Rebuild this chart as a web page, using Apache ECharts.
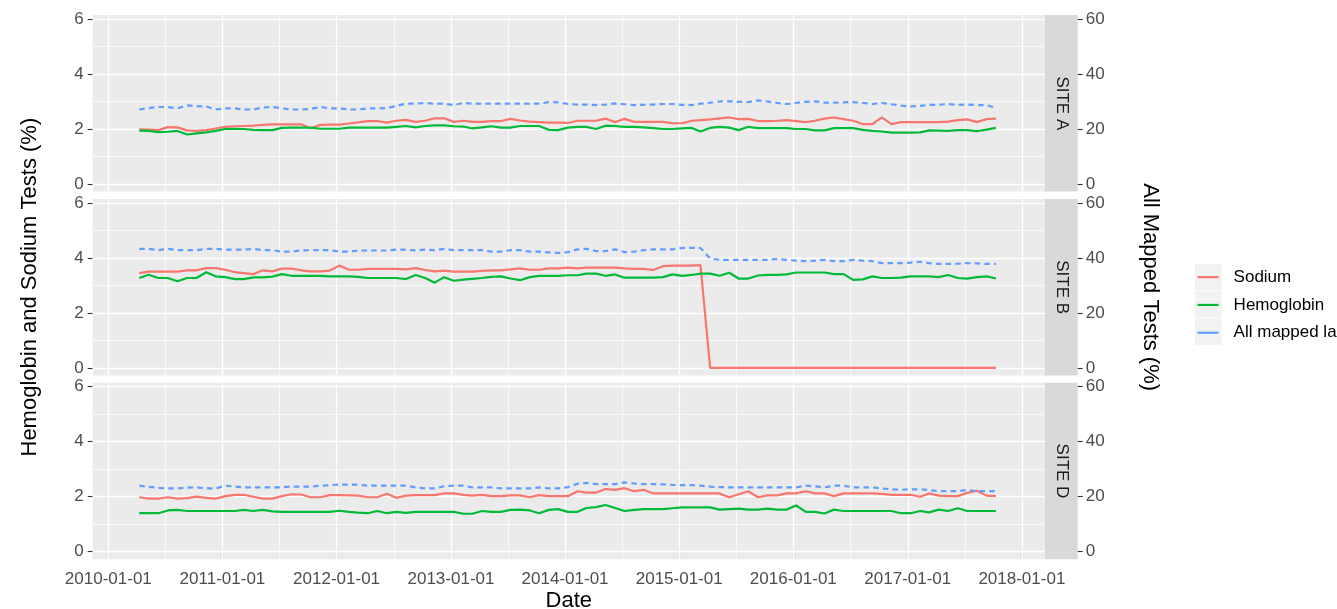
<!DOCTYPE html>
<html>
<head>
<meta charset="utf-8">
<script src="https://cdn.jsdelivr.net/npm/echarts@6/dist/echarts.min.js"></script>
<style>
html,body{margin:0;padding:0;background:#ffffff;}
#chart{width:1337px;height:609px;}
</style>
</head>
<body>
<div id="chart"></div>
<script>
// ---------------- DATA ----------------
const siteNames = ['SITE A', 'SITE B', 'SITE D'];
const seriesNames = ['Sodium', 'Hemoglobin', 'All mapped labs'];
const leftTickValues = [0, 2, 4, 6];
const rightTickValues = [0, 20, 40, 60];
const tickYears = [2010, 2011, 2012, 2013, 2014, 2015, 2016, 2017, 2018];
// monthly observations, April 2010 .. October 2017 (91 months)
const firstYear = 2010, firstMonthIndex = 3, obsDay = 10, monthCount = 91;

const siteA_sodium = [
1.99,1.98,1.96,2.07,2.06,1.95,1.93,1.96,2.02,2.08,
2.10,2.11,2.12,2.15,2.17,2.17,2.17,2.17,2.03,2.15,
2.16,2.16,2.20,2.24,2.29,2.29,2.23,2.30,2.33,2.26,
2.30,2.39,2.39,2.26,2.30,2.26,2.26,2.29,2.29,2.37,
2.31,2.27,2.25,2.23,2.23,2.22,2.30,2.30,2.30,2.38,
2.25,2.37,2.26,2.26,2.26,2.26,2.21,2.21,2.30,2.32,
2.35,2.39,2.42,2.36,2.37,2.29,2.29,2.30,2.32,2.29,
2.25,2.30,2.38,2.42,2.36,2.30,2.18,2.18,2.42,2.18,
2.25,2.25,2.25,2.25,2.25,2.27,2.32,2.35,2.25,2.36,
2.38];
const siteA_hemoglobin = [
1.94,1.93,1.89,1.90,1.93,1.80,1.84,1.88,1.93,2.00,
2.01,2.00,1.97,1.96,1.96,2.04,2.05,2.05,2.05,2.01,
2.01,2.01,2.05,2.05,2.05,2.05,2.05,2.08,2.11,2.06,
2.11,2.13,2.13,2.10,2.09,2.02,2.06,2.10,2.05,2.05,
2.11,2.11,2.11,1.97,1.96,2.05,2.08,2.08,2.00,2.12,
2.11,2.08,2.08,2.06,2.03,2.00,2.00,2.02,2.04,1.91,
2.04,2.08,2.05,1.96,2.08,2.03,2.03,2.03,2.03,2.00,
2.00,1.95,1.95,2.03,2.03,2.03,1.97,1.93,1.91,1.87,
1.87,1.87,1.88,1.95,1.94,1.93,1.96,1.96,1.92,1.98,
2.04];
const siteA_allMapped = [
27.1,27.6,28.0,28.0,27.5,28.6,28.3,28.2,27.1,27.5,
27.5,27.1,27.1,27.8,28.0,27.5,27.1,27.1,27.3,28.0,
27.5,27.5,27.1,27.1,27.5,27.5,27.6,28.4,29.2,29.2,
29.5,29.2,29.2,28.7,29.5,29.2,29.2,29.2,29.2,29.2,
29.2,29.2,29.2,29.8,29.7,29.1,28.9,28.9,28.7,28.9,
29.3,29.0,28.7,28.8,28.9,29.1,29.1,28.8,28.7,29.2,
29.6,30.0,30.1,29.9,29.8,30.4,30.0,29.5,29.1,29.5,
29.9,30.1,29.6,29.6,29.7,29.8,29.5,29.1,29.5,29.0,
28.5,28.2,28.4,28.8,28.8,29.1,28.8,28.9,28.7,28.7,
27.7];

const siteB_sodium = [
3.45,3.50,3.50,3.50,3.50,3.55,3.55,3.63,3.63,3.57,
3.48,3.45,3.41,3.55,3.51,3.61,3.61,3.55,3.51,3.51,
3.54,3.72,3.57,3.57,3.60,3.60,3.60,3.60,3.58,3.63,
3.56,3.51,3.54,3.50,3.50,3.50,3.53,3.55,3.55,3.58,
3.62,3.57,3.57,3.62,3.62,3.65,3.62,3.65,3.65,3.65,
3.65,3.62,3.60,3.60,3.56,3.70,3.72,3.72,3.72,3.74,
0,0,0,0,0,0,0,0,0,0,
0,0,0,0,0,0,0,0,0,0,
0,0,0,0,0,0,0,0,0,0,
0];
const siteB_hemoglobin = [
3.27,3.39,3.27,3.27,3.15,3.27,3.27,3.48,3.33,3.30,
3.23,3.23,3.29,3.29,3.32,3.41,3.35,3.35,3.35,3.35,
3.33,3.33,3.33,3.31,3.27,3.27,3.27,3.27,3.23,3.38,
3.27,3.10,3.30,3.17,3.21,3.24,3.27,3.31,3.33,3.25,
3.19,3.30,3.35,3.35,3.35,3.37,3.37,3.43,3.43,3.35,
3.40,3.28,3.28,3.28,3.28,3.30,3.40,3.35,3.38,3.43,
3.43,3.35,3.46,3.25,3.25,3.36,3.38,3.38,3.40,3.47,
3.47,3.47,3.47,3.41,3.41,3.20,3.22,3.33,3.27,3.27,
3.28,3.33,3.33,3.33,3.30,3.38,3.27,3.25,3.30,3.33,
3.25];
const siteB_allMapped = [
43.3,43.3,42.8,43.3,42.8,42.8,42.8,43.3,43.3,43.0,
43.0,43.0,43.3,42.8,42.8,42.3,42.3,42.7,42.8,42.8,
42.8,42.3,42.3,42.7,42.7,42.7,42.7,43.0,43.0,42.7,
43.0,42.8,43.3,42.8,42.8,42.8,42.8,42.3,42.3,42.8,
42.8,42.3,42.3,42.0,41.8,42.1,43.1,43.3,42.5,42.5,
43.1,42.1,42.3,42.8,43.1,43.1,43.1,43.6,43.7,43.6,
39.8,39.3,39.3,39.3,39.3,39.3,39.3,39.6,39.3,39.0,
38.8,39.0,39.3,38.8,38.8,39.3,39.0,38.8,38.1,38.1,
38.1,38.3,38.6,38.1,37.8,37.8,37.9,38.1,38.0,37.8,
37.8];

const siteD_sodium = [
1.98,1.93,1.93,1.98,1.93,1.95,2.00,1.96,1.93,2.02,
2.07,2.07,2.00,1.93,1.93,2.02,2.09,2.08,1.98,1.98,
2.06,2.06,2.05,2.04,1.98,1.98,2.11,1.96,2.04,2.06,
2.06,2.06,2.12,2.12,2.07,2.04,2.07,2.02,2.02,2.05,
2.05,1.98,2.06,2.02,2.02,2.02,2.20,2.15,2.15,2.28,
2.25,2.31,2.20,2.25,2.12,2.12,2.12,2.12,2.12,2.12,
2.12,2.12,1.98,2.09,2.20,1.98,2.05,2.05,2.12,2.12,
2.20,2.12,2.12,2.02,2.12,2.12,2.12,2.12,2.10,2.07,
2.07,2.07,2.00,2.12,2.04,2.02,2.02,2.14,2.22,2.04,
2.02];
const siteD_hemoglobin = [
1.40,1.40,1.40,1.50,1.52,1.48,1.48,1.48,1.48,1.48,
1.48,1.52,1.48,1.52,1.47,1.45,1.45,1.45,1.45,1.45,
1.45,1.49,1.45,1.42,1.40,1.48,1.40,1.45,1.41,1.45,
1.45,1.45,1.45,1.45,1.38,1.38,1.48,1.45,1.45,1.52,
1.53,1.50,1.40,1.52,1.55,1.45,1.45,1.59,1.62,1.70,
1.59,1.48,1.52,1.55,1.55,1.55,1.58,1.61,1.61,1.61,
1.61,1.53,1.55,1.57,1.53,1.53,1.57,1.53,1.53,1.68,
1.45,1.45,1.39,1.53,1.48,1.48,1.48,1.48,1.48,1.48,
1.40,1.40,1.48,1.43,1.53,1.48,1.58,1.48,1.48,1.48,
1.48];
const siteD_allMapped = [
24.0,23.6,23.2,23.0,23.0,23.3,23.4,23.0,23.0,24.0,
23.7,23.4,23.4,23.4,23.4,23.4,23.7,23.7,23.7,24.0,
24.2,24.4,24.4,24.4,24.0,24.0,24.0,24.0,24.0,23.4,
23.0,23.0,23.8,24.0,24.0,23.4,23.4,23.4,23.0,23.0,
23.0,23.0,23.4,23.0,23.0,23.5,24.7,25.0,24.6,24.6,
24.6,25.2,24.8,24.6,24.6,24.5,24.3,24.2,24.2,24.0,
23.7,23.5,23.4,23.4,23.4,23.4,23.4,23.4,23.4,23.4,
24.0,23.8,23.4,24.0,24.0,23.4,23.4,23.4,23.0,22.7,
22.5,22.7,22.7,22.4,22.0,22.0,22.0,22.5,22.0,22.0,
22.0];

// ---------------- STYLE / LAYOUT ----------------
const FONT = '"Liberation Sans", Arial, Helvetica, sans-serif';
const COLORS = ['#F8766D', '#00BA38', '#619CFF'];
const PANEL_LEFT = 92.7, PANEL_RIGHT = 1045, PANEL_H = 176.6;
const PANEL_TOPS = [15, 198.9, 382.7];
const STRIP_W = 32.7;
const Y_LEFT = [-0.276, 6.146];
const Y_RIGHT = [-2.76, 61.46];
const X_RANGE = [new Date(2009, 10, 12).getTime(), new Date(2018, 2, 16).getTime()];

const panels = [
  [siteA_sodium, siteA_hemoglobin, siteA_allMapped],
  [siteB_sodium, siteB_hemoglobin, siteB_allMapped],
  [siteD_sodium, siteD_hemoglobin, siteD_allMapped]
];
panels.forEach((p, i) => p.forEach((arr, j) => {
  if (arr.length !== monthCount) throw new Error(siteNames[i] + ' ' + seriesNames[j] + ' has ' + arr.length);
}));

const obsDates = [];
for (let k = 0; k < monthCount; k++) obsDates.push(new Date(firstYear, firstMonthIndex + k, obsDay).getTime());
const yearTs = tickYears.map(y => new Date(y, 0, 1).getTime());
const midYearTs = [];
for (let i = 0; i < yearTs.length - 1; i++) midYearTs.push((yearTs[i] + yearTs[i + 1]) / 2);
const leftMinor = [1, 3, 5];

function fmtDate(v) {
  const d = new Date(v);
  const p = n => (n < 10 ? '0' : '') + n;
  return d.getFullYear() + '-' + p(d.getMonth() + 1) + '-' + p(d.getDate());
}

const grids = [], xAxes = [], yAxes = [], series = [], graphics = [];
const tickLine = { color: '#333333', width: 1.1 };
const labelBase = { fontFamily: FONT, fontSize: 17, color: '#4D4D4D' };

const gridLineData = [];
leftTickValues.forEach(v => gridLineData.push({ yAxis: v, lineStyle: { width: 1.4 } }));
leftMinor.forEach(v => gridLineData.push({ yAxis: v, lineStyle: { width: 0.7 } }));
yearTs.forEach(v => gridLineData.push({ xAxis: v, lineStyle: { width: 1.4 } }));
midYearTs.forEach(v => gridLineData.push({ xAxis: v, lineStyle: { width: 0.7 } }));

panels.forEach((p, i) => {
  const top = PANEL_TOPS[i];
  const isBottom = i === panels.length - 1;
  grids.push({
    left: PANEL_LEFT, top: top, width: PANEL_RIGHT - PANEL_LEFT, height: PANEL_H,
    show: true, backgroundColor: '#EBEBEB', borderWidth: 0, borderColor: 'transparent',
    containLabel: false, outerBoundsMode: 'none'
  });
  xAxes.push({
    type: 'value', gridIndex: i, min: X_RANGE[0], max: X_RANGE[1],
    axisLine: { show: false }, splitLine: { show: false },
    axisTick: { show: isBottom, length: 5, lineStyle: tickLine, customValues: yearTs },
    axisLabel: Object.assign({ show: isBottom, customValues: yearTs, margin: 12, formatter: fmtDate }, labelBase)
  });
  yAxes.push({
    type: 'value', gridIndex: i, position: 'left', min: Y_LEFT[0], max: Y_LEFT[1],
    axisLine: { show: false }, splitLine: { show: false },
    axisTick: { show: true, length: 5, lineStyle: tickLine, customValues: leftTickValues },
    axisLabel: Object.assign({ customValues: leftTickValues, margin: 9 }, labelBase)
  });
  yAxes.push({
    type: 'value', gridIndex: i, position: 'right', offset: STRIP_W, min: Y_RIGHT[0], max: Y_RIGHT[1],
    axisLine: { show: false }, splitLine: { show: false },
    axisTick: { show: true, length: 5, lineStyle: tickLine, customValues: rightTickValues },
    axisLabel: Object.assign({ customValues: rightTickValues, margin: 8 }, labelBase)
  });
  // panel grid lines (white), under the data
  series.push({
    type: 'line', name: '_grid' + i, xAxisIndex: i, yAxisIndex: 2 * i, data: [], silent: true,
    markLine: {
      silent: true, symbol: ['none', 'none'], label: { show: false }, emphasis: { disabled: true },
      animation: false, z: 1,
      lineStyle: { color: '#FFFFFF', type: 'solid', width: 1.4 },
      data: gridLineData
    }
  });
  p.forEach((values, j) => {
    const onRight = j === 2;
    series.push({
      type: 'line', name: seriesNames[j], xAxisIndex: i, yAxisIndex: 2 * i + (onRight ? 1 : 0),
      data: obsDates.map((d, k) => [d, values[k]]),
      showSymbol: false, symbol: 'none', smooth: false, z: 2 + j,
      color: COLORS[j],
      lineStyle: { color: COLORS[j], width: 2.2, type: onRight ? [5.5, 4.2] : 'solid', cap: 'butt' },
      emphasis: { disabled: true }
    });
  });
  // facet strip
  graphics.push({
    type: 'rect', shape: { x: PANEL_RIGHT, y: top, width: STRIP_W, height: PANEL_H },
    style: { fill: '#D9D9D9' }, silent: true
  });
  graphics.push({
    type: 'text', x: PANEL_RIGHT + STRIP_W / 2, y: top + PANEL_H / 2, rotation: -Math.PI / 2,
    style: { text: siteNames[i], fontFamily: FONT, fontSize: 17, fill: '#1A1A1A', align: 'center', verticalAlign: 'middle' },
    silent: true
  });
});

const midY = (PANEL_TOPS[0] + PANEL_TOPS[2] + PANEL_H) / 2;
graphics.push({
  type: 'text', x: 30, y: midY, rotation: Math.PI / 2,
  style: { text: 'Hemoglobin and Sodium Tests (%)', fontFamily: FONT, fontSize: 22, fill: '#000000', align: 'center', verticalAlign: 'middle' },
  silent: true
});
graphics.push({
  type: 'text', x: 1150, y: midY, rotation: -Math.PI / 2,
  style: { text: 'All Mapped Tests (%)', fontFamily: FONT, fontSize: 22, fill: '#000000', align: 'center', verticalAlign: 'middle' },
  silent: true
});
graphics.push({
  type: 'text', x: (PANEL_LEFT + PANEL_RIGHT) / 2, y: 601,
  style: { text: 'Date', fontFamily: FONT, fontSize: 22, fill: '#000000', align: 'center', verticalAlign: 'middle' },
  silent: true
});
// legend key backgrounds
const KEY = 27.3, KEY_TOP = 263.5;
for (let j = 0; j < seriesNames.length; j++) {
  graphics.push({
    type: 'rect', shape: { x: 1195, y: KEY_TOP + j * KEY + 0.5, width: 26.7, height: KEY - 1 },
    style: { fill: '#F2F2F2' }, silent: true, z: 0
  });
}

const chart = echarts.init(document.getElementById('chart'), null, { renderer: 'canvas' });
chart.setOption({
  animation: false,
  backgroundColor: '#FFFFFF',
  grid: grids,
  xAxis: xAxes,
  yAxis: yAxes,
  series: series,
  graphic: { elements: graphics },
  legend: {
    orient: 'vertical', left: 1196.5, top: KEY_TOP + KEY / 2 - 13.9,
    padding: 0, itemGap: 0, itemWidth: 21, itemHeight: 2,
    selectedMode: false,
    data: seriesNames,
    lineStyle: { type: 'solid', width: 2.2 },
    itemStyle: { opacity: 0 },
    textStyle: { fontFamily: FONT, fontSize: 17, color: '#000000', lineHeight: 22.8, padding: [5, 0, 0, 10] }
  }
});
</script>
</body>
</html>
